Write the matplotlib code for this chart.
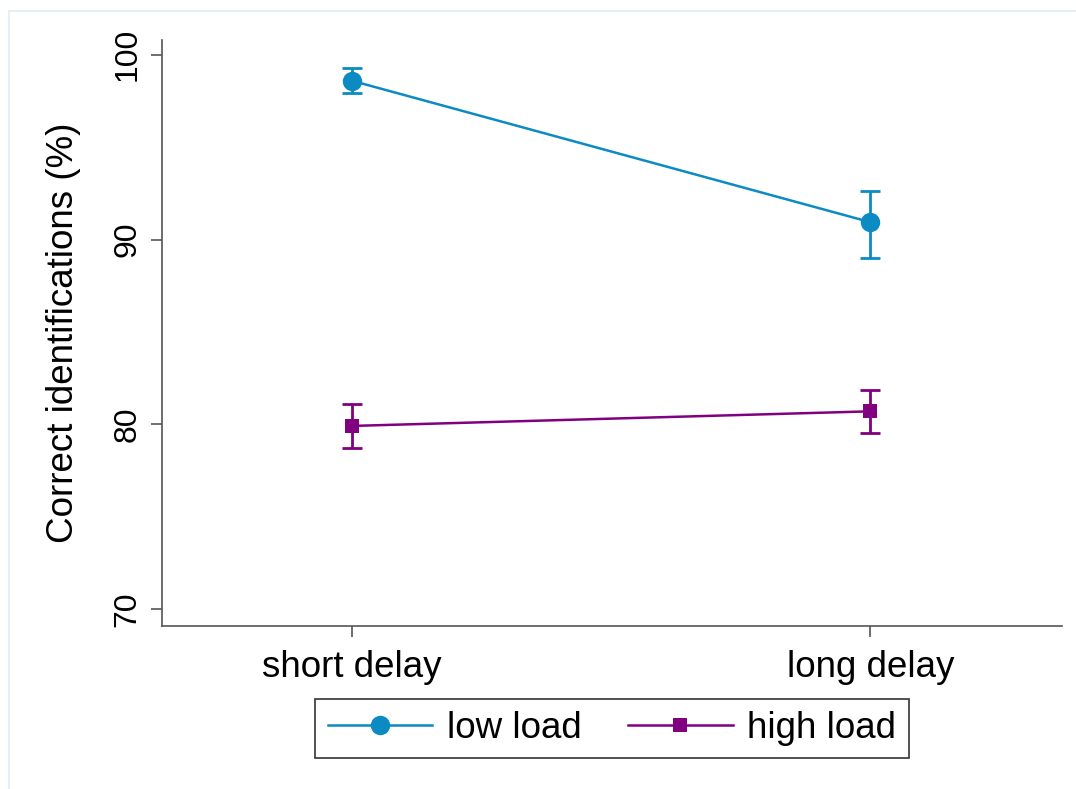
import matplotlib
matplotlib.use("Agg")
import matplotlib.pyplot as plt
from matplotlib.patches import Rectangle

plt.rcParams["font.family"] = ["Liberation Sans", "DejaVu Sans"]

# mean correct identifications with error bar limits
delays = ["short delay", "long delay"]
low_load = [98.59, 90.94]
low_load_hi = [99.28, 92.65]
low_load_lo = [97.93, 89.01]
high_load = [79.91, 80.70]
high_load_hi = [81.12, 81.86]
high_load_lo = [78.69, 79.54]
yticks = [70, 80, 90, 100]

blue = "#0b8bc1"
purple = "#800080"
axis_grey = "#555555"

fig = plt.figure(figsize=(10.76, 7.89), dpi=100)
fig.patch.set_facecolor("white")

# faint outer frame of the graph region
fig.patches.append(Rectangle((9 / 1076, -0.1), 1.2, 1 - 11 / 789 + 0.1,
                             transform=fig.transFigure, fill=False,
                             edgecolor="#e6eef3", linewidth=1.5))

ax = fig.add_axes([162 / 1076, 1 - 626 / 789, 900 / 1076, 586 / 789])

x = list(range(len(delays)))


def draw(vals, hi, lo, color, marker, ms, label):
    yerr = [[v - l for v, l in zip(vals, lo)], [h - v for v, h in zip(vals, hi)]]
    ax.errorbar(x, vals, yerr=yerr, fmt="none", ecolor=color, elinewidth=2,
                capsize=7, capthick=2, zorder=2)
    return ax.plot(x, vals, color=color, lw=1.8, marker=marker, ms=ms,
                   markeredgewidth=0, label=label, zorder=3)[0]


h1 = draw(low_load, low_load_hi, low_load_lo, blue, "o", 14, "low load")
h2 = draw(high_load, high_load_hi, high_load_lo, purple, "s", 10.5, "high load")

ax.set_xlim(-0.367, 1.37)
ax.set_ylim(69.08, 100.8)
ax.set_xticks(x)
ax.set_xticklabels(delays, fontsize=26.5)
ax.set_yticks(yticks)
ax.set_yticklabels([str(t) for t in yticks], fontsize=23, rotation=90,
                   va="center")
ax.set_ylabel("Correct identifications (%)", fontsize=26.5, labelpad=23)

for side in ["top", "right"]:
    ax.spines[side].set_visible(False)
for side in ["left", "bottom"]:
    ax.spines[side].set_color(axis_grey)
    ax.spines[side].set_linewidth(1.2)
ax.tick_params(axis="both", colors=axis_grey, length=8, width=1.2,
               labelcolor="black")
ax.tick_params(axis="x", pad=9)
ax.tick_params(axis="y", pad=6)

leg = fig.legend(handles=[h1, h2], loc="upper center",
                 bbox_to_anchor=(612 / 1076, 1 - 699 / 789), ncol=2,
                 fontsize=26.5, frameon=True, fancybox=False,
                 handlelength=2.85, handletextpad=0.4, columnspacing=1.25,
                 borderpad=0.33, borderaxespad=0)
leg.get_frame().set_edgecolor("black")
leg.get_frame().set_linewidth(1.2)

fig.savefig("out.png", dpi=100)
